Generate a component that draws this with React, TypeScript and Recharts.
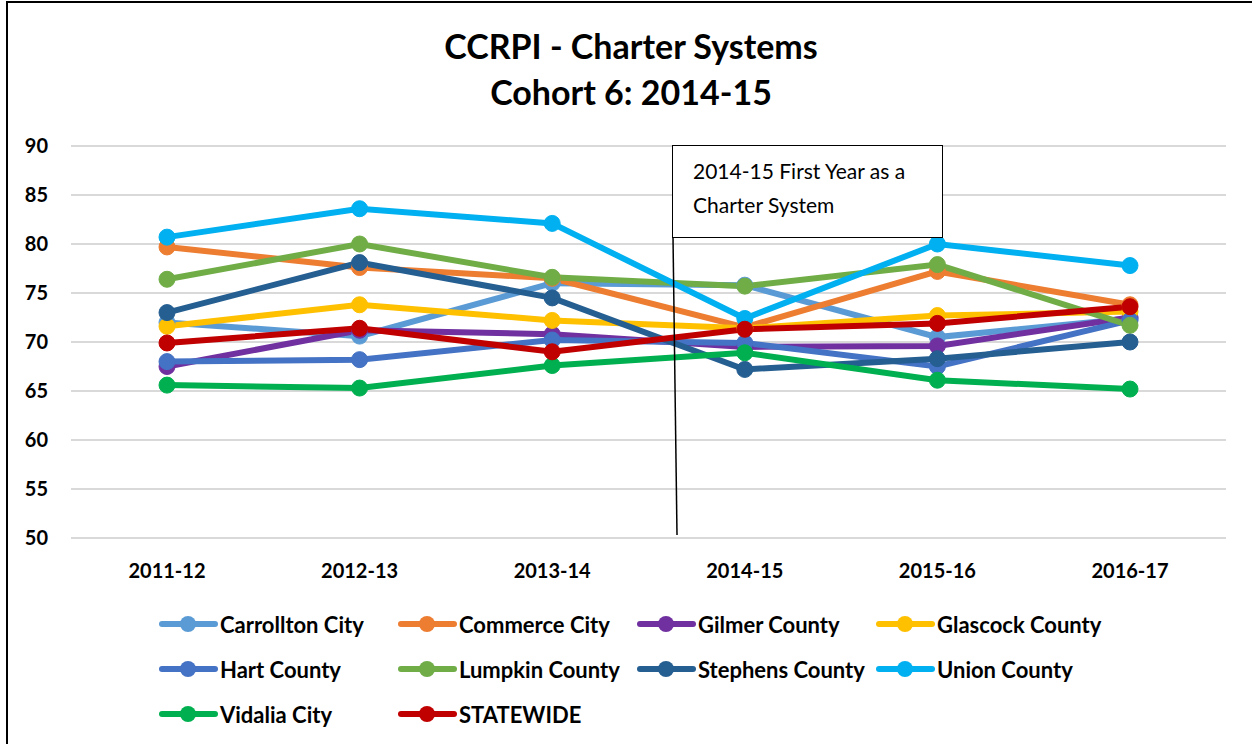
import React from 'react';
import { LineChart, Line, XAxis, YAxis, CartesianGrid } from 'recharts';

const years = ['2011-12', '2012-13', '2013-14', '2014-15', '2015-16', '2016-17'];

const carrollton = [72.0, 70.6, 76.0, 75.8, 70.5, 72.4];
const commerce = [79.7, 77.6, 76.5, 71.5, 77.2, 73.8];
const gilmer = [67.5, 71.2, 70.8, 69.5, 69.6, 72.5];
const glascock = [71.6, 73.8, 72.2, 71.4, 72.7, 73.1];
const hart = [68.0, 68.2, 70.2, 69.9, 67.5, 72.2];
const lumpkin = [76.4, 80.0, 76.6, 75.7, 77.9, 71.7];
const stephens = [73.0, 78.1, 74.5, 67.2, 68.3, 70.0];
const union = [80.7, 83.6, 82.1, 72.4, 80.0, 77.8];
const vidalia = [65.6, 65.3, 67.6, 68.9, 66.1, 65.2];
const statewide = [69.9, 71.4, 69.0, 71.3, 71.9, 73.6];

const yTicks = [50, 55, 60, 65, 70, 75, 80, 85, 90];

const series = [
  { key: 'Carrollton City', values: carrollton, color: '#5B9BD5' },
  { key: 'Commerce City', values: commerce, color: '#ED7D31' },
  { key: 'Gilmer County', values: gilmer, color: '#7030A0' },
  { key: 'Glascock County', values: glascock, color: '#FFC000' },
  { key: 'Hart County', values: hart, color: '#4472C4' },
  { key: 'Lumpkin County', values: lumpkin, color: '#70AD47' },
  { key: 'Stephens County', values: stephens, color: '#255E91' },
  { key: 'Union County', values: union, color: '#00B0F0' },
  { key: 'Vidalia City', values: vidalia, color: '#00B050' },
  { key: 'STATEWIDE', values: statewide, color: '#C00000' },
];

const data = years.map((year, i) => {
  const row: Record<string, string | number> = { year };
  series.forEach((s) => {
    row[s.key] = s.values[i];
  });
  return row;
});

const FONT = 'Lato, "Open Sans", sans-serif';

// legend drawn as plain html so it doesn't eat into the plot area
const ChartLegend = () => (
  <div
    style={{
      position: 'absolute',
      left: 159,
      top: 609,
      display: 'grid',
      gridTemplateColumns: 'repeat(4, 239px)',
      rowGap: 15,
    }}
  >
    {series.map((s) => (
      <div key={s.key} style={{ display: 'flex', alignItems: 'center', height: 30 }}>
        <svg width={61} height={20}>
          <line x1={3} y1={10} x2={56} y2={10} stroke={s.color} strokeWidth={6} strokeLinecap="round" />
          <circle cx={29} cy={10} r={8} fill={s.color} />
        </svg>
        <span style={{ fontSize: 22, fontWeight: 700, color: '#000', whiteSpace: 'nowrap' }}>{s.key}</span>
      </div>
    ))}
  </div>
);

export default function App() {
  return (
    <div
      style={{
        position: 'absolute',
        left: 0,
        top: 0,
        width: 1252,
        height: 744,
        overflow: 'hidden',
        background: '#fff',
        fontFamily: FONT,
      }}
    >
      <div
        style={{
          position: 'absolute',
          left: 6,
          top: 1,
          width: 1400,
          height: 900,
          border: '2px solid #000',
        }}
      />
      <div
        style={{
          position: 'absolute',
          left: 0,
          top: 23,
          width: 1262,
          textAlign: 'center',
          fontSize: 34,
          fontWeight: 700,
          lineHeight: '46px',
          color: '#000',
        }}
      >
        <div>CCRPI - Charter Systems</div>
        <div>Cohort 6: 2014-15</div>
      </div>
      <div style={{ position: 'absolute', left: 0, top: 0 }}>
        <LineChart width={1252} height={744} data={data} margin={{ top: 146, right: 26, bottom: 176, left: 0 }}>
          <CartesianGrid vertical={false} stroke="#d9d9d9" strokeWidth={2} />
          <XAxis
            dataKey="year"
            padding={{ left: 96, right: 96 }}
            axisLine={false}
            tickLine={false}
            tickSize={0}
            tickMargin={26}
            tick={{ fill: '#000', fontSize: 20, fontWeight: 700, fontFamily: FONT }}
          />
          <YAxis
            width={71}
            domain={[50, 90]}
            ticks={yTicks}
            interval={0}
            axisLine={false}
            tickLine={false}
            tickSize={0}
            tickMargin={23}
            tick={{ fill: '#000', fontSize: 20, fontWeight: 700, fontFamily: FONT }}
          />
          {series.map((s) => (
            <Line
              key={s.key}
              type="linear"
              dataKey={s.key}
              stroke={s.color}
              strokeWidth={6}
              dot={{ r: 8, fill: s.color, stroke: s.color, strokeWidth: 1 }}
              activeDot={false}
              isAnimationActive={false}
            />
          ))}
        </LineChart>
      </div>
      <ChartLegend />
      <svg style={{ position: 'absolute', left: 0, top: 0 }} width={1252} height={744}>
        <line x1={673} y1={237} x2={677} y2={535} stroke="#000" strokeWidth={1.5} />
      </svg>
      <div
        style={{
          position: 'absolute',
          left: 672,
          top: 145,
          width: 271,
          height: 93,
          boxSizing: 'border-box',
          border: '1.5px solid #000',
          background: '#fff',
          fontSize: 21,
          lineHeight: '34px',
          color: '#000',
          padding: '8px 0 0 20px',
          whiteSpace: 'nowrap',
        }}
      >
        <div>2014-15 First Year as a</div>
        <div>Charter System</div>
      </div>
    </div>
  );
}
